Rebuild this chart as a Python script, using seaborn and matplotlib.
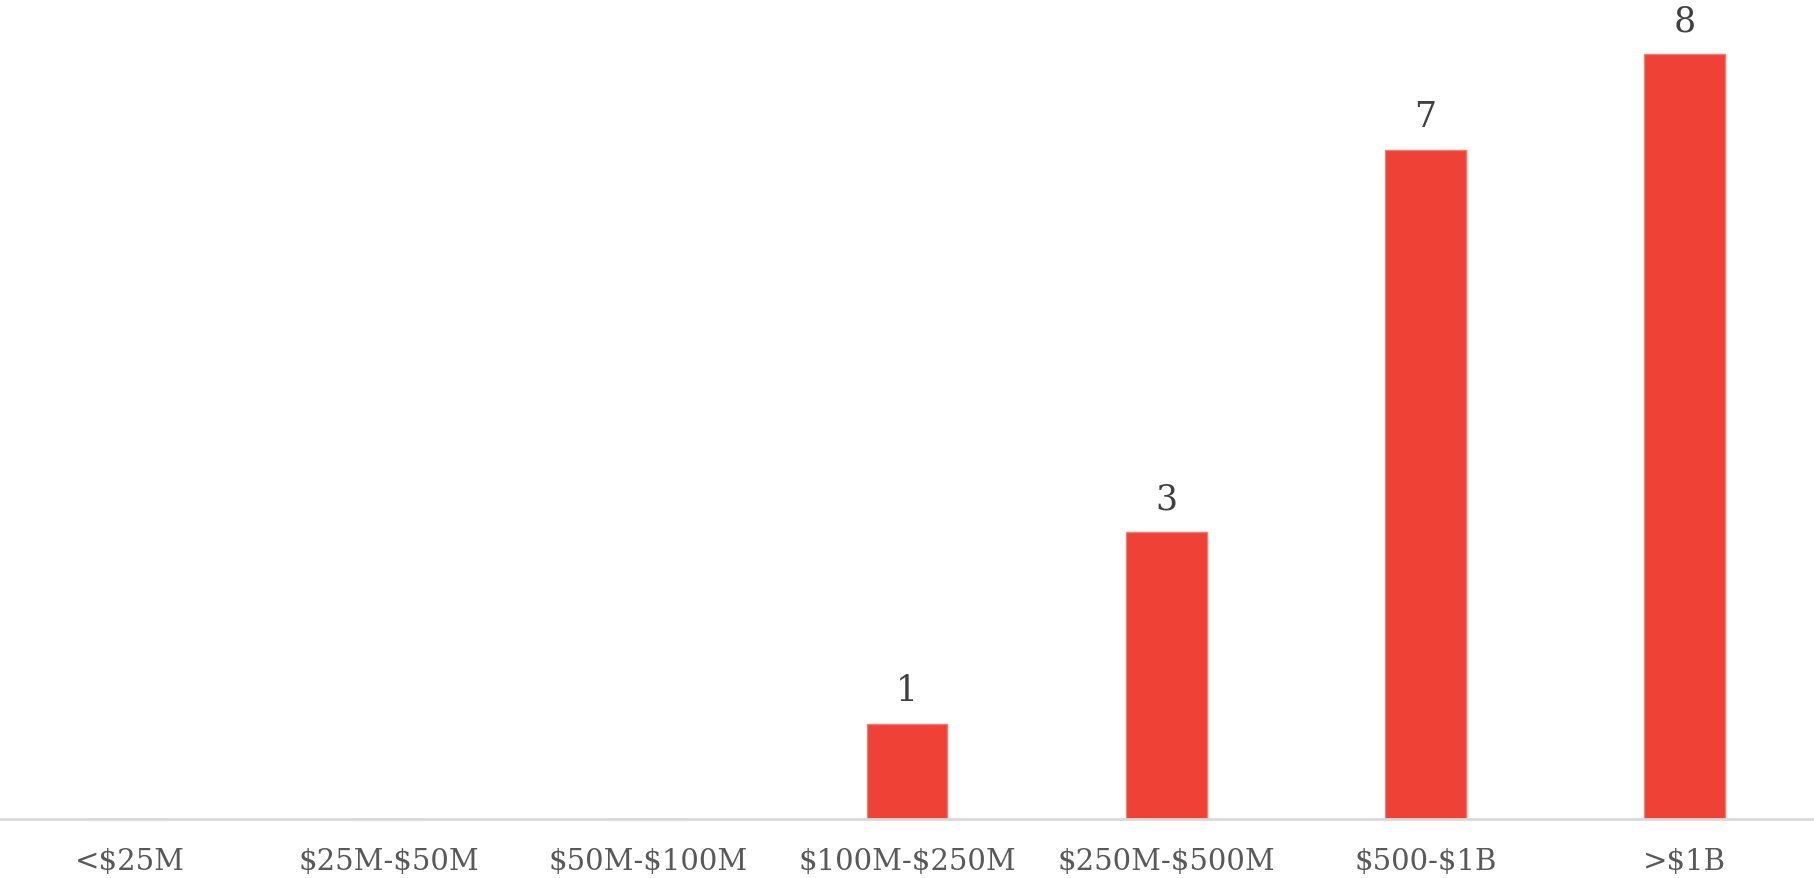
import matplotlib
matplotlib.use('Agg')
import matplotlib.pyplot as plt
import seaborn as sns
import pandas as pd

categorias = ['<$25M', '$25M-$50M', '$50M-$100M', '$100M-$250M',
              '$250M-$500M', '$500-$1B', '>$1B']
valores = [0, 0, 0, 1, 3, 7, 8]

df = pd.DataFrame({'faixa': categorias, 'qtd': valores})

sns.set_style('white')
plt.rcParams['font.family'] = ['DejaVu Serif', 'Liberation Serif']

fig = plt.figure(figsize=(18.14, 8.79), dpi=100)
ax = fig.add_axes([0, 0.067, 1, 0.933])

sns.barplot(data=df, x='faixa', y='qtd', color='#EF4136', width=0.312,
            saturation=1, edgecolor='#F47A72', linewidth=1, ax=ax)

ax.set_ylim(0, 8.58)
ax.set_xlim(-0.5, len(categorias) - 0.5)

rotulos = [str(v) if v > 0 else '' for v in valores]
ax.bar_label(ax.containers[0], labels=rotulos, padding=12,
             fontsize=25, color='#404040')

ax.set_xticks(range(len(categorias)))
ax.set_xticklabels([c.replace('$', r'\$') for c in categorias],
                   fontsize=21, color='#595959')
ax.tick_params(axis='x', length=0, pad=20)
ax.set_yticks([])
ax.set_xlabel('')
ax.set_ylabel('')

for s in ['top', 'right', 'left']:
    ax.spines[s].set_visible(False)
ax.spines['bottom'].set_color('#d9d9d9')
ax.spines['bottom'].set_linewidth(2)

fig.savefig('out.png', dpi=100, facecolor='white')
